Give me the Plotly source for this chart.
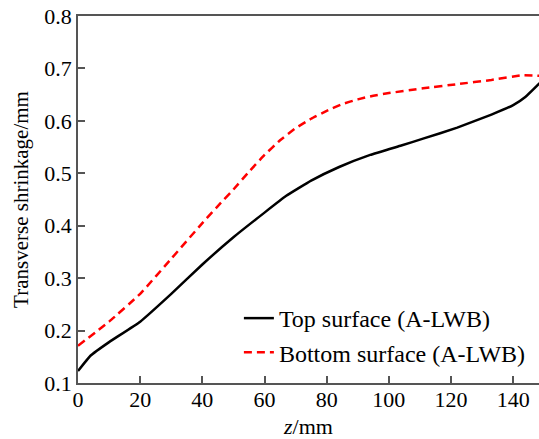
import plotly.graph_objects as go

top_z = [0, 4, 10, 20, 30, 40, 50, 60, 67, 75, 84, 94, 104, 111, 122, 133, 140, 144, 148.5]
top_y = [0.123, 0.152, 0.178, 0.217, 0.27, 0.326, 0.378, 0.425, 0.457, 0.486, 0.512, 0.535, 0.553, 0.566, 0.587, 0.612, 0.630, 0.646, 0.672]

bot_z = [0, 10, 20, 30, 40, 46, 50, 55, 60, 65, 70, 75, 80, 85, 90, 95, 100, 111, 122, 133, 143, 148.5]
bot_y = [0.171, 0.217, 0.27, 0.337, 0.405, 0.444, 0.469, 0.503, 0.535, 0.563, 0.586, 0.604, 0.619, 0.632, 0.641, 0.648, 0.653, 0.662, 0.670, 0.678, 0.687, 0.686]

x_ticks = [0, 20, 40, 60, 80, 100, 120, 140]
y_ticks = [0.1, 0.2, 0.3, 0.4, 0.5, 0.6, 0.7, 0.8]

FONT = "Liberation Serif"

fig = go.Figure()
fig.add_trace(go.Scatter(x=top_z, y=top_y, mode="lines", name="Top surface (A-LWB)",
                         line=dict(color="black", width=2.5, shape="spline", smoothing=0.3)))
fig.add_trace(go.Scatter(x=bot_z, y=bot_y, mode="lines", name="Bottom surface (A-LWB)",
                         line=dict(color="#ff0000", width=2.5, dash="8px,5px", shape="spline", smoothing=0.3)))

fig.update_layout(
    width=539, height=439,
    margin=dict(l=78, r=0, t=16, b=56),
    paper_bgcolor="white", plot_bgcolor="white",
    font=dict(family=FONT, size=22, color="black"),
    showlegend=True,
    legend=dict(x=0.349, y=0.237, xanchor="left", yanchor="top",
                bgcolor="rgba(0,0,0,0)", font=dict(size=24, family=FONT),
                tracegroupgap=0),
)
fig.update_xaxes(range=[0, 148.3], tickvals=x_ticks, ticks="inside", ticklen=7, tickwidth=1.5,
                 tickcolor="#555", showline=True, linecolor="#555", linewidth=1.5, mirror=True,
                 showgrid=False, zeroline=False, tickfont=dict(size=22, family=FONT),
                 ticklabelstandoff=-4,
                 title=dict(text="<i>z</i>/mm", font=dict(size=22, family=FONT), standoff=8))
fig.update_yaxes(range=[0.1, 0.8], tickvals=y_ticks, tickformat=".1f", ticks="inside", ticklen=7,
                 tickwidth=1.5, tickcolor="#555", showline=True, linecolor="#555", linewidth=1.5,
                 showgrid=False, zeroline=False, tickfont=dict(size=22, family=FONT),
                 title=dict(text="Transverse shrinkage/mm", font=dict(size=21, family=FONT), standoff=10))

fig.write_html("out.html")
